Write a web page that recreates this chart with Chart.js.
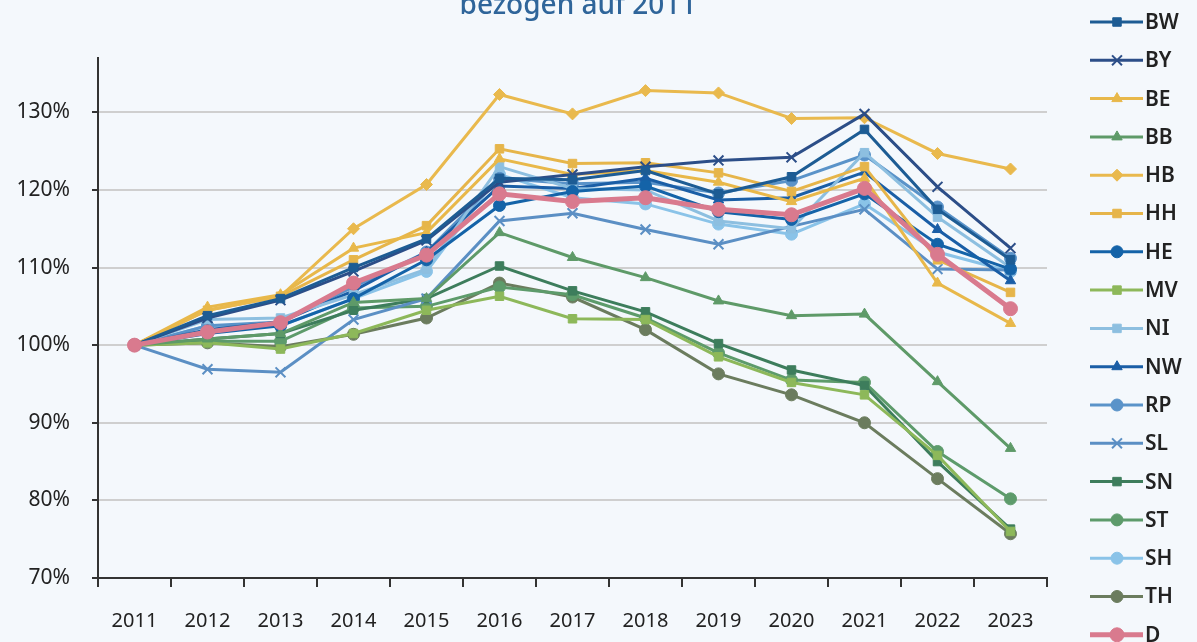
<!DOCTYPE html>
<html>
<head>
<meta charset="utf-8">
<script src="https://cdn.jsdelivr.net/npm/chart.js@4.4.1/dist/chart.umd.min.js"></script>
<style>
  html, body { margin: 0; padding: 0; background: #f4f8fc; }
  #wrap { width: 1197px; height: 642px; position: relative; }
</style>
</head>
<body>
<div id="wrap"><canvas id="chart"></canvas></div>
<script>
// years and y ticks
const years = ["2011", "2012", "2013", "2014", "2015", "2016", "2017", "2018", "2019", "2020", "2021", "2022", "2023"];
const yTicks = [70, 80, 90, 100, 110, 120, 130];

// index values in %, 2011 = 100
const BW = [100, 103.8, 106.0, 110.0, 113.7, 121.5, 121.3, 122.5, 119.5, 121.7, 127.8, 117.5, 111.0];
const BY = [100, 103.5, 105.8, 109.5, 113.5, 121.0, 122.0, 123.0, 123.8, 124.2, 129.8, 120.4, 112.5];
const BE = [100, 104.9, 106.5, 112.5, 114.5, 124.0, 122.0, 122.5, 121.0, 118.5, 121.5, 108.0, 102.8];
const BB = [100, 100.8, 101.5, 105.5, 106.0, 114.5, 111.3, 108.7, 105.7, 103.8, 104.0, 95.3, 86.7];
const HB = [100, 104.5, 106.3, 115.0, 120.7, 132.3, 129.8, 132.8, 132.5, 129.2, 129.3, 124.7, 122.7];
const HH = [100, 104.5, 106.3, 111.0, 115.4, 125.3, 123.4, 123.5, 122.2, 119.8, 123.0, 111.0, 106.8];
const HE = [100, 101.5, 102.5, 106.0, 111.0, 118.0, 119.8, 120.5, 117.2, 116.2, 119.5, 113.0, 109.8];
const MV = [100, 100.3, 99.5, 101.5, 104.5, 106.3, 103.4, 103.3, 98.5, 95.2, 93.6, 85.8, 76.0];
const NI = [100, 103.3, 103.5, 106.5, 109.8, 123.0, 120.2, 120.0, 116.0, 115.0, 124.8, 116.5, 110.0];
const NW = [100, 102.0, 103.0, 107.0, 112.0, 120.5, 120.2, 121.5, 118.7, 119.0, 122.3, 114.9, 108.3];
const RP = [100, 102.5, 103.0, 107.5, 112.0, 121.5, 120.8, 121.0, 119.6, 121.2, 124.5, 117.8, 111.2];
const SL = [100, 96.9, 96.5, 103.3, 106.0, 116.0, 117.0, 114.9, 113.0, 115.3, 117.5, 109.8, 109.7];
const SN = [100, 100.8, 101.5, 104.5, 106.0, 110.2, 107.0, 104.3, 100.2, 96.8, 94.8, 85.0, 76.3];
const ST = [100, 100.5, 100.5, 104.8, 105.0, 107.5, 106.5, 103.5, 99.0, 95.5, 95.2, 86.3, 80.2];
const SH = [100, 102.5, 102.5, 106.0, 109.5, 122.0, 119.0, 118.2, 115.6, 114.3, 118.2, 112.0, 109.5];
const TH = [100, 100.3, 99.8, 101.4, 103.5, 108.0, 106.2, 102.0, 96.3, 93.6, 90.0, 82.8, 75.7];
const D  = [100, 101.7, 102.9, 108.0, 111.6, 119.5, 118.5, 119.0, 117.5, 116.8, 120.2, 111.7, 104.7];

function series(label, data, color, style, extra) {
  return Object.assign({
    label: label,
    data: data,
    borderColor: color,
    backgroundColor: color,
    borderWidth: 3,
    pointStyle: style,
    pointRadius: style === "crossRot" ? 7 : 6,
    pointBorderWidth: style === "crossRot" ? 2 : 1,
    tension: 0,
  }, extra || {});
}

const datasets = [
  series("BW", BW, "#1d5c94", "rect"),
  series("BY", BY, "#2c4e88", "crossRot"),
  series("BE", BE, "#e8b84a", "triangle"),
  series("BB", BB, "#5e9a68", "triangle"),
  series("HB", HB, "#e9b94d", "rectRot"),
  series("HH", HH, "#e6b54a", "rect"),
  series("HE", HE, "#1463a8", "circle"),
  series("MV", MV, "#8db85a", "rect"),
  series("NI", NI, "#8dbfe0", "rect"),
  series("NW", NW, "#1a5ea6", "triangle"),
  series("RP", RP, "#5a93c9", "circle"),
  series("SL", SL, "#5b8fc4", "crossRot"),
  series("SN", SN, "#3d7d5c", "rect"),
  series("ST", ST, "#5d9b6b", "circle"),
  series("SH", SH, "#8ac3e8", "circle"),
  series("TH", TH, "#6b7c5e", "circle"),
  series("D", D, "#d97a8e", "circle", { borderWidth: 5, pointRadius: 7, order: -1 }),
];

// title, partly cut off at the top like the original
const titlePlugin = {
  id: "cutTitle",
  afterDraw(chart) {
    const ctx = chart.ctx;
    const a = chart.chartArea;
    ctx.save();
    ctx.fillStyle = "#2f659a";
    ctx.font = "500 28px 'Noto Sans'";
    ctx.textAlign = "center";
    ctx.textBaseline = "alphabetic";
    ctx.fillText("bezogen auf 2011", 578, 14);
    ctx.restore();
  },
};

// legend on the right, runs past the bottom edge
const legendPlugin = {
  id: "sideLegend",
  afterDraw(chart) {
    const ctx = chart.ctx;
    ctx.save();
    chart.data.datasets.forEach((ds, i) => {
      const y = 22 + i * 38.3;
      ctx.strokeStyle = ds.borderColor;
      ctx.fillStyle = ds.backgroundColor;
      ctx.lineWidth = ds.label === "D" ? 5 : 3;
      ctx.beginPath();
      ctx.moveTo(1090, y);
      ctx.lineTo(1143, y);
      ctx.stroke();
      ctx.lineWidth = ds.pointStyle === "crossRot" ? 2 : 1;
      Chart.helpers.drawPoint(ctx, {
        pointStyle: ds.pointStyle,
        radius: ds.pointRadius,
        borderWidth: ctx.lineWidth,
        rotation: 0,
      }, 1117, y);
      ctx.fillStyle = "#222";
      ctx.font = "600 21px 'Noto Sans'";
      ctx.textAlign = "left";
      ctx.textBaseline = "middle";
      ctx.fillText(ds.label, 1145, y + 1);
    });
    ctx.restore();
  },
};

const options = {
  responsive: false,
  animation: false,
  layout: { padding: { top: 58, right: 150, left: 0, bottom: 0 } },
  plugins: {
    legend: { display: false },
    title: { display: false },
    tooltip: { enabled: false },
  },
  scales: {
    x: {
      offset: true,
      grid: {
        offset: true,
        drawOnChartArea: false,
        drawTicks: true,
        tickLength: 9,
        color: "#333",
        lineWidth: 2,
      },
      border: { color: "#333", width: 2 },
      ticks: {
        color: "#222",
        font: { family: "'Noto Sans'", size: 20 },
        padding: 22,
        maxRotation: 0,
      },
      afterFit(scale) { scale.height = 64; },
    },
    y: {
      min: 70,
      max: 137,
      afterBuildTicks(scale) {
        scale.ticks = yTicks.map((v) => ({ value: v }));
      },
      grid: {
        color: "#cfcfcf",
        lineWidth: 2,
        drawTicks: true,
        tickLength: 6,
        tickColor: "#333",
      },
      border: { color: "#333", width: 2 },
      ticks: {
        color: "#222",
        font: { family: "'Noto Sans'", size: 21 },
        padding: 22,
        callback: (v) => v + "%",
      },
      afterFit(scale) { scale.width = 98; },
    },
  },
};

const canvas = document.getElementById("chart");
canvas.width = 1197;
canvas.height = 642;

const chart = new Chart(canvas, {
  type: "line",
  data: { labels: years, datasets: datasets },
  options: options,
  plugins: [titlePlugin, legendPlugin],
});
</script>
</body>
</html>
